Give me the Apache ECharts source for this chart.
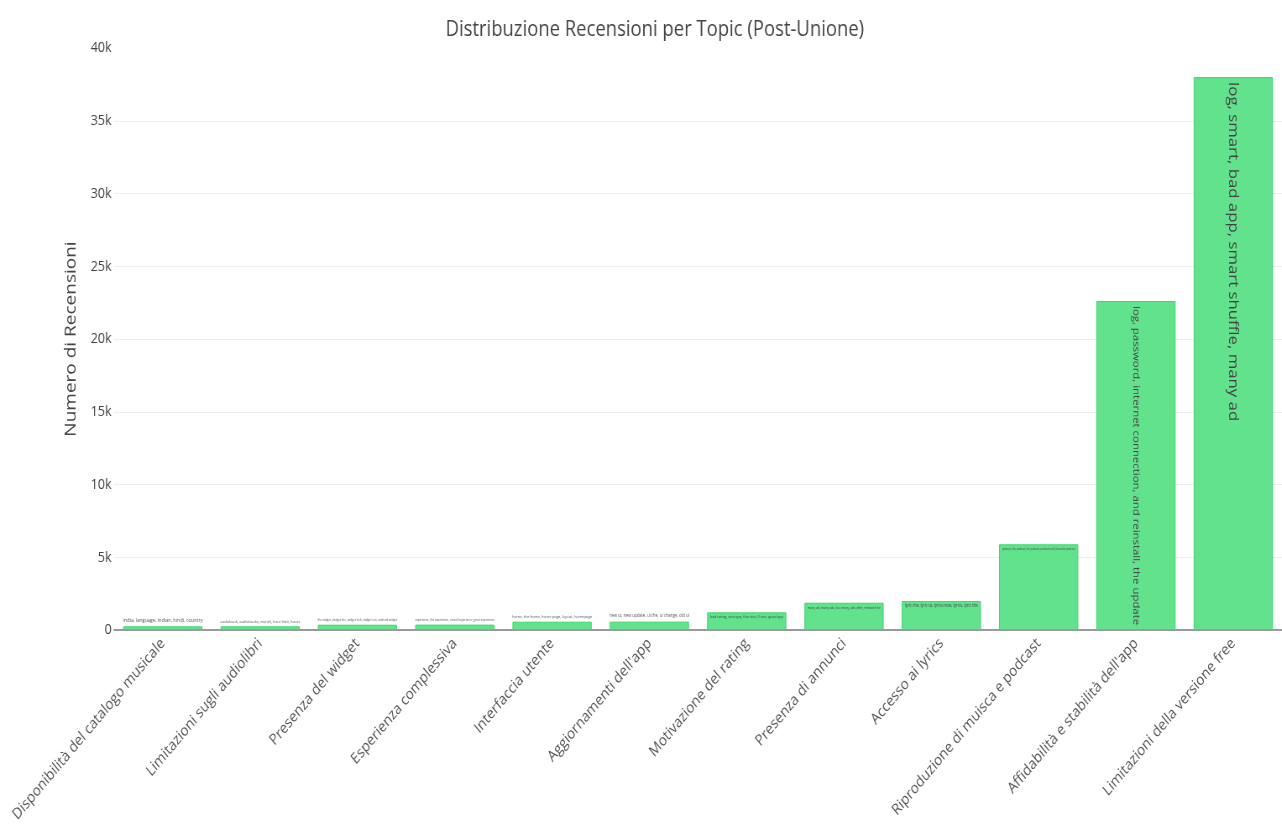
<!DOCTYPE html>
<html>
<head>
<meta charset="utf-8">
<title>Distribuzione Recensioni per Topic</title>
<script src="https://cdn.jsdelivr.net/npm/echarts@6/dist/echarts.min.js"></script>
<style>
  html, body { margin: 0; padding: 0; background: #fff; overflow: hidden; }
  #wrap { width: 1282px; height: 827px; overflow: hidden; }
  /* the figure is laid out wider and squeezed horizontally to fit the page */
  #chart { width: 1527px; height: 827px; transform: scaleX(0.8395); transform-origin: 0 0; }
</style>
</head>
<body>
<div id="wrap"><div id="chart"></div></div>
<script>
// Topic names (x categories), sorted by review count
const topics = [
  'Disponibilità del catalogo musicale',
  'Limitazioni sugli audiolibri',
  'Presenza del widget',
  'Esperienza complessiva',
  'Interfaccia utente',
  "Aggiornamenti dell'app",
  'Motivazione del rating',
  'Presenza di annunci',
  'Accesso ai lyrics',
  'Riproduzione di muisca e podcast',
  "Affidabilità e stabilità dell'app",
  'Limitazioni della versione free'
];

// Number of reviews per topic
const reviewCounts = [250, 250, 365, 370, 570, 575, 1215, 1875, 1995, 5890, 22610, 38000];

// Top keywords per topic, written on each bar
const topicKeywords = [
  'india, language, indian, hindi, country',
  'audiobook, audiobooks, month, hour limit, hours',
  'the widget, widget the, widget lock, widget not, android widget',
  'experience, the experience, overall experience, great experience',
  'home, the home, home page, layout, homepage',
  'new ui, new update, ui the, ui change, old ui',
  'bad rating, rate app, five star, 5 star, good app',
  'many ad, many ads, too many, ads after, minute free',
  'lyric the, lyric to, lyrics now, lyrics, lyric the',
  'podcast, the podcast, for podcast, podcast and, favourite podcast',
  'log, password, internet connection, and reinstall, the update',
  'log, smart, bad app, smart shuffle, many ad'
];

// Y axis tick labels
const yTickLabels = ['0', '5k', '10k', '15k', '20k', '25k', '30k', '35k', '40k'];

const FONT = "'Open Sans', 'DejaVu Sans', sans-serif";

// Plot area geometry (in the unsqueezed layout)
const GRID_LEFT = 136;
const GRID_WIDTH = 1404;
const BAR_FRACTION = 0.814;
const barWidthPx = GRID_WIDTH / topics.length * BAR_FRACTION;

// Text width measurement, used to shrink short-bar labels to the bar width
const measureCtx = document.createElement('canvas').getContext('2d');
function fitFont(text, target) {
  measureCtx.font = "10px 'Open Sans'";
  const w = measureCtx.measureText(text).width;
  return Math.min(12, 10 * target / w);
}

// Label placement: long bars get vertical text inside, short bars horizontal text
// squeezed to the bar width, very short bars put it just above the bar.
function labelFor(v, text) {
  if (v > 30000) {
    return { show: true, position: 'insideTop', rotate: -90, align: 'left', verticalAlign: 'middle',
             distance: 5, fontSize: 16.8, color: '#444', fontFamily: FONT };
  }
  if (v > 10000) {
    return { show: true, position: 'insideTop', rotate: -90, align: 'left', verticalAlign: 'middle',
             distance: 5, fontSize: 11.4, color: '#444', fontFamily: FONT };
  }
  if (v > 1000) {
    return { show: true, position: 'insideTop', distance: 3, color: '#444', fontFamily: FONT,
             fontSize: fitFont(text, barWidthPx - 8) };
  }
  return { show: true, position: 'top', distance: 3, color: '#555', fontFamily: FONT,
           fontSize: fitFont(text, barWidthPx) };
}

const barData = reviewCounts.map((v, i) => ({
  value: v,
  label: Object.assign(labelFor(v, topicKeywords[i]), { formatter: () => topicKeywords[i] })
}));

const chart = echarts.init(document.getElementById('chart'), null, { renderer: 'canvas' });
chart.setOption({
  backgroundColor: '#ffffff',
  animation: false,
  title: {
    text: 'Distribuzione Recensioni per Topic (Post-Unione)',
    left: 775, top: 14, textAlign: 'center',
    textStyle: { fontSize: 22, fontWeight: 'normal', color: '#444', fontFamily: FONT }
  },
  grid: { left: GRID_LEFT, width: GRID_WIDTH, top: 48, bottom: 197, containLabel: false },
  xAxis: {
    type: 'category',
    data: topics,
    axisTick: { show: false },
    axisLine: { show: true, lineStyle: { color: '#9a9a9a', width: 2 } },
    axisLabel: { interval: 0, rotate: 45, margin: 11, fontSize: 15.5, color: '#555', fontFamily: FONT }
  },
  yAxis: {
    type: 'value',
    min: 0, max: 40000, interval: 5000,
    name: 'Numero di Recensioni',
    nameLocation: 'middle',
    nameGap: 42,
    nameTextStyle: { fontSize: 19, color: '#444', fontFamily: FONT },
    axisLine: { show: false },
    axisTick: { show: false },
    axisLabel: {
      margin: 3, fontSize: 15, color: '#444', fontFamily: FONT,
      formatter: v => yTickLabels[Math.round(v / 5000)]
    },
    splitLine: { show: true, showMaxLine: false, lineStyle: { color: '#eeeeee', width: 1 } }
  },
  series: [{
    type: 'bar',
    data: barData,
    barCategoryGap: ((1 - BAR_FRACTION) * 100).toFixed(1) + '%',
    itemStyle: { color: '#62e28d', borderColor: '#3dd672', borderWidth: 1 }
  }]
});
</script>
</body>
</html>
